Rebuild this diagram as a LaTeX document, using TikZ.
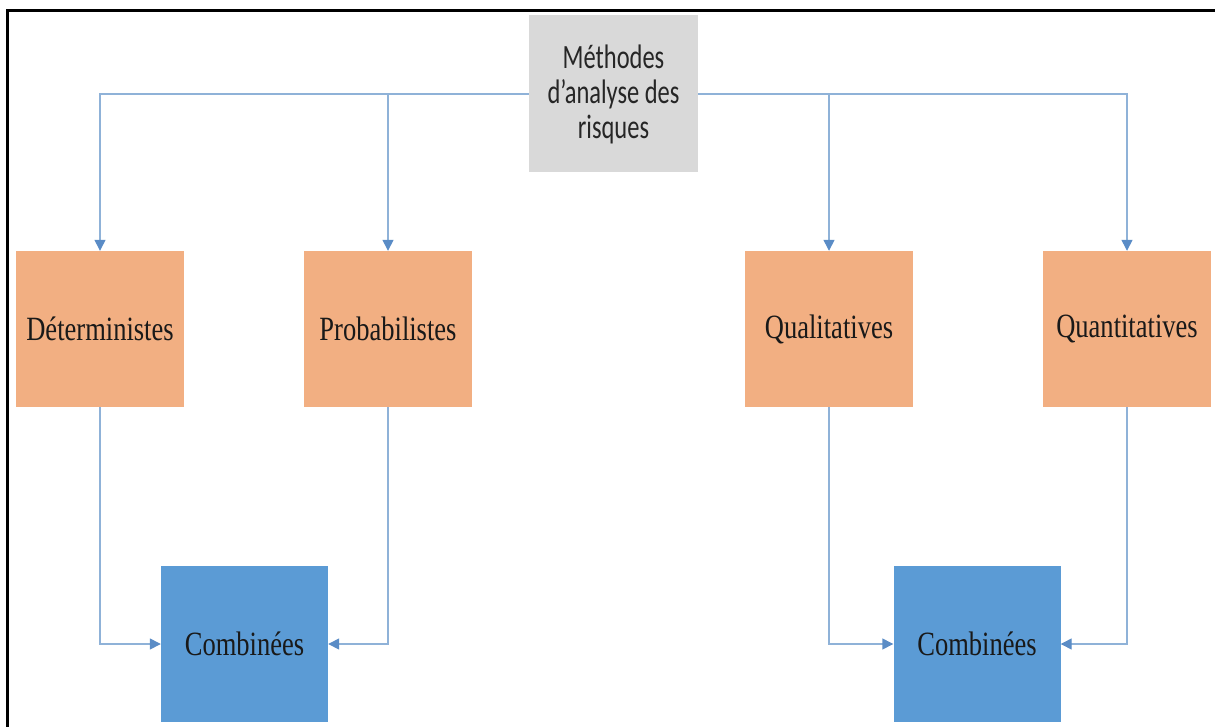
\documentclass[tikz,border=0pt]{standalone}
\usepackage{fontspec}
\setmainfont{Liberation Serif}
\newfontfamily\boxserif[FakeStretch=0.78]{Liberation Serif}
\newfontfamily\boxsans[FakeStretch=0.72]{Carlito}
\usetikzlibrary{arrows.meta}
\definecolor{rootgray}{HTML}{D9D9D9}
\definecolor{methorange}{HTML}{F2AF82}
\definecolor{combblue}{HTML}{5B9BD5}
\definecolor{linkblue}{HTML}{8FB2D8}
\definecolor{tipblue}{HTML}{5A8CC6}
\begin{document}
\begin{tikzpicture}[x=1pt,y=-1pt,
  rootbox/.style={rectangle, fill=rootgray, minimum width=169pt, minimum height=157pt,
    inner sep=0pt, align=center, text=black!85,
    font=\boxsans\fontsize{34}{35}\selectfont},
  methbox/.style={rectangle, fill=methorange, minimum width=168pt, minimum height=156pt,
    inner sep=0pt, align=center, text=black!90,
    font=\boxserif\fontsize{34}{36}\selectfont},
  combbox/.style={rectangle, fill=combblue, minimum width=167pt, minimum height=156pt,
    inner sep=0pt, align=center, text=black!90,
    font=\boxserif\fontsize{34}{36}\selectfont},
  link/.style={draw=linkblue, line width=1.4pt,
    -{Triangle[width=11pt,length=11pt,color=tipblue]}}
]
\useasboundingbox (0,0) rectangle (1215,727);

% frame along the top and left edges
\draw[line width=3pt, line cap=rect] (7,727) -- (7,11) -- (1215,11);

% root
\node[rootbox] (root) at (613.5,94) {Méthodes\\d’analyse des\\risques};

% method families
\node[methbox] (det)   at (100,329)  {Déterministes};
\node[methbox] (prob)  at (388,329)  {Probabilistes};
\node[methbox] (qual)  at (829,329)  {Qualitatives};
\node[methbox] (quant) at (1127,329) {Quantitatives};

% combined methods
\node[combbox] (combL) at (244.5,644) {Combinées};
\node[combbox] (combR) at (977,644)   {Combinées};

% root to families
\draw[link] (root.west) -| (det.north);
\draw[link] (root.west) -| (prob.north);
\draw[link] (root.east) -| (qual.north);
\draw[link] (root.east) -| (quant.north);

% families to combined
\draw[link] (det.south)   |- (combL.west);
\draw[link] (prob.south)  |- (combL.east);
\draw[link] (qual.south)  |- (combR.west);
\draw[link] (quant.south) |- (combR.east);
\end{tikzpicture}
\end{document}
